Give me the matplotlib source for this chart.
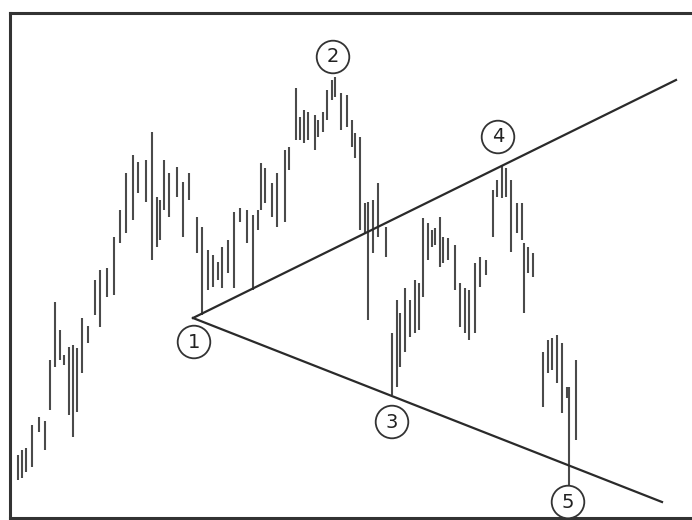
import matplotlib.pyplot as plt

# bar positions (trading days) with high / low prices
days = [18, 22, 26, 32, 39, 45, 50, 55, 60, 64, 69, 73, 77, 82, 88, 95, 100, 107,
        114, 120, 126, 133, 138, 146, 152, 157, 160, 164, 169, 177, 183, 189, 197,
        202, 208, 213, 218, 222, 228, 234, 240, 247, 253, 258, 261, 265, 272, 277,
        285, 289, 296, 300, 304, 308, 315, 318, 323, 327, 332, 335, 341, 347, 352,
        355, 360, 365, 368, 373, 378, 386, 392, 397, 400, 405, 410, 415, 419, 423,
        428, 432, 435, 440, 443, 448, 455, 460, 465, 469, 475, 480, 486, 493, 497,
        502, 506, 511, 517, 522, 524, 528, 533, 543, 548, 552, 557, 562, 567, 569, 576]
highs = [65, 70, 72, 95, 103, 99, 160, 218, 190, 165, 173, 175, 172, 202, 194, 240, 250, 252,
         283, 310, 347, 365, 358, 360, 388, 323, 320, 360, 347, 353, 338, 347, 303,
         293, 270, 265, 258, 273, 280, 308, 312, 310, 305, 310, 357, 352, 337, 347,
         370, 373, 432, 403, 410, 408, 405, 400, 408, 430, 440, 443, 427, 425, 400,
         387, 383, 317, 318, 320, 337, 293, 187, 220, 207, 232, 220, 240, 237, 302,
         297, 290, 292, 303, 283, 282, 275, 237, 232, 230, 257, 263, 260, 330, 340,
         355, 352, 340, 317, 317, 277, 273, 267, 168, 180, 182, 185, 177, 133, 133, 160]
lows = [40, 42, 48, 53, 88, 70, 110, 153, 160, 155, 105, 83, 108, 147, 177, 205, 193, 223,
        225, 277, 287, 300, 327, 318, 260, 273, 280, 310, 303, 323, 283, 320, 267,
        205, 230, 233, 240, 232, 247, 232, 298, 277, 230, 290, 310, 317, 303, 293,
        298, 350, 380, 380, 377, 380, 370, 383, 388, 400, 420, 423, 390, 393, 373,
        362, 290, 287, 200, 267, 283, 263, 125, 133, 153, 168, 183, 187, 190, 223,
        260, 273, 275, 253, 257, 260, 230, 193, 187, 180, 187, 233, 245, 283, 323,
        322, 323, 268, 287, 280, 207, 247, 243, 113, 147, 150, 137, 107, 122, 35, 80]

# trendlines from the pivot at point 1
upper_line_x = [193, 676]
upper_line_y = [202, 440]
lower_line_x = [193, 662]
lower_line_y = [202, 18]

# numbered pivots
labels = ['1', '2', '3', '4', '5']
label_x = [194, 333, 392, 498, 568]
label_y = [178, 463, 98, 383, 18]

fig = plt.figure(figsize=(6.92, 5.2), dpi=100)
ax = fig.add_axes([10 / 692, 2 / 520, 690 / 692, 505 / 520])

ax.vlines(days, lows, highs, color='#4a4a4a', lw=1.5)

ax.plot(upper_line_x, upper_line_y, color='#2a2a2a', lw=1.6)
ax.plot(lower_line_x, lower_line_y, color='#2a2a2a', lw=1.6)

for txt, lx, ly in zip(labels, label_x, label_y):
    ax.text(lx, ly, txt, ha='center', va='center', fontsize=14, color='#222222',
            bbox=dict(boxstyle='circle,pad=0.35', fc='white', ec='#333333', lw=1.3))

ax.set_xlim(10, 700)
ax.set_ylim(2, 507)
ax.set_xticks([])
ax.set_yticks([])
ax.spines['right'].set_visible(False)
for side in ['left', 'top', 'bottom']:
    ax.spines[side].set_linewidth(2.2)
    ax.spines[side].set_color('#333333')

fig.savefig('out.png', dpi=100)
